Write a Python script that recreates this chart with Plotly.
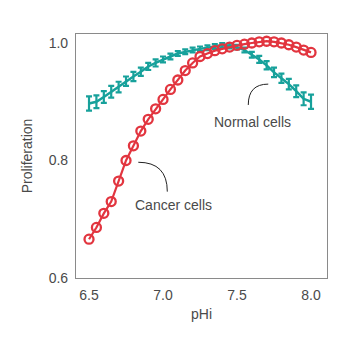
import plotly.graph_objects as go

ph = [6.50, 6.55, 6.60, 6.65, 6.70, 6.75, 6.80, 6.85, 6.90, 6.95,
      7.00, 7.05, 7.10, 7.15, 7.20, 7.25, 7.30, 7.35, 7.40, 7.45,
      7.50, 7.55, 7.60, 7.65, 7.70, 7.75, 7.80, 7.85, 7.90, 7.95, 8.00]

cancer = [0.666, 0.686, 0.710, 0.730, 0.765, 0.800, 0.825, 0.850, 0.870, 0.888,
          0.904, 0.921, 0.937, 0.953, 0.966, 0.977, 0.982, 0.987, 0.990, 0.993,
          0.996, 0.998, 1.000, 1.002, 1.003, 1.002, 1.000, 0.997, 0.993, 0.988, 0.984]

normal = [0.897, 0.900, 0.908, 0.917, 0.925, 0.935, 0.943, 0.951, 0.960, 0.966,
          0.972, 0.977, 0.982, 0.985, 0.988, 0.990, 0.992, 0.994, 0.996, 0.995,
          0.993, 0.988, 0.980, 0.972, 0.962, 0.950, 0.940, 0.930, 0.918, 0.905, 0.900]

normal_err = [0.012, 0.011, 0.010, 0.010, 0.009, 0.008, 0.008, 0.007, 0.006, 0.006,
              0.005, 0.005, 0.004, 0.004, 0.004, 0.004, 0.004, 0.004, 0.004, 0.004,
              0.004, 0.004, 0.005, 0.006, 0.007, 0.008, 0.008, 0.009, 0.010, 0.011, 0.012]

x_ticks = [6.5, 7.0, 7.5, 8.0]
y_ticks = [0.6, 0.8, 1.0]

TEAL = "#17a19b"
RED = "#e2353f"
TXT = "#4a4a4a"
FONT = "Liberation Sans, Arial, sans-serif"

fig = go.Figure()

fig.add_trace(go.Scatter(
    x=ph, y=normal, mode="lines",
    line=dict(color=TEAL, width=2.5),
    error_y=dict(type="data", array=normal_err, color=TEAL, thickness=2.2, width=3),
    showlegend=False, hoverinfo="skip"))

fig.add_trace(go.Scatter(
    x=ph, y=cancer, mode="lines+markers",
    line=dict(color=RED, width=2.2),
    marker=dict(symbol="circle-open", size=9, color=RED, line=dict(color=RED, width=2.3)),
    showlegend=False, hoverinfo="skip"))

# leader arcs
fig.add_shape(type="path", path="M 7.576 0.8945 Q 7.576 0.930 7.711 0.930",
              line=dict(color="#222222", width=1), xref="x", yref="y")
fig.add_shape(type="path", path="M 6.833 0.797 Q 7.029 0.797 7.029 0.747",
              line=dict(color="#222222", width=1), xref="x", yref="y")

fig.add_annotation(x=7.606, y=0.866, text="Normal cells", showarrow=False,
                   font=dict(family=FONT, size=14, color=TXT))
fig.add_annotation(x=7.068, y=0.724, text="Cancer cells", showarrow=False,
                   font=dict(family=FONT, size=14, color=TXT))

axis_common = dict(showgrid=False, zeroline=False, showline=True, mirror=True,
                   linecolor="#8a8a8a", linewidth=1.2, ticks="",
                   tickfont=dict(family=FONT, size=14, color=TXT))

fig.update_xaxes(range=[6.412, 8.108], tickvals=x_ticks,
                 ticktext=[f"{v:.1f}" for v in x_ticks],
                 ticklabelstandoff=4,
                 title=dict(text="pHi", font=dict(family=FONT, size=14, color=TXT), standoff=7),
                 **axis_common)
fig.update_yaxes(range=[0.6, 1.0153], tickvals=y_ticks,
                 ticktext=[f"{v:.1f}" for v in y_ticks],
                 ticklabelstandoff=4,
                 title=dict(text="Proliferation", font=dict(family=FONT, size=14, color=TXT), standoff=12),
                 **axis_common)

fig.update_layout(width=350, height=350, margin=dict(l=76, r=23, t=34, b=72),
                  paper_bgcolor="white", plot_bgcolor="white")

fig.write_html("out.html")
